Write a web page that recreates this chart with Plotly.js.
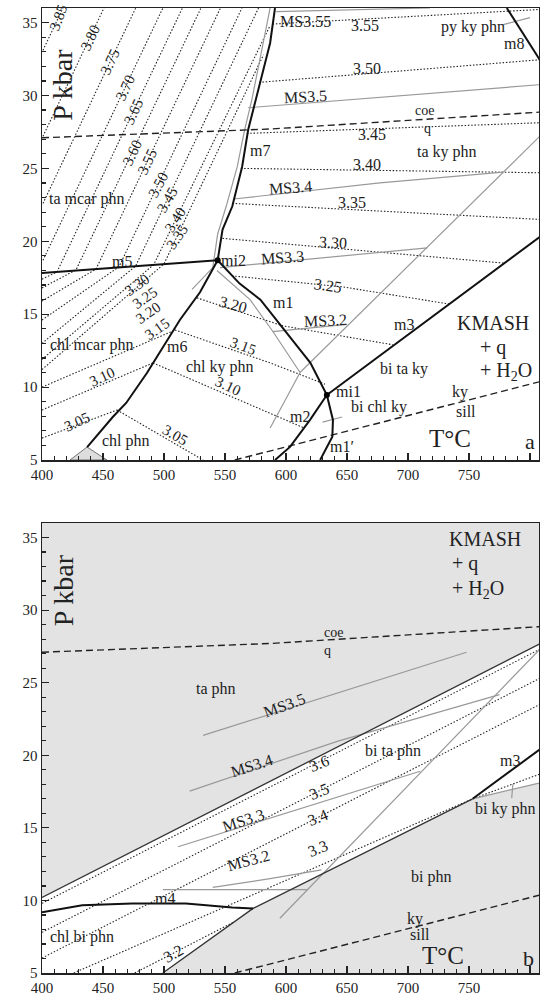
<!DOCTYPE html>
<html><head><meta charset="utf-8">
<script src="https://cdn.plot.ly/plotly-3.0.1.min.js"></script>
<style>html,body{margin:0;padding:0;background:#fff}#chart{width:540px;height:998px}</style>
</head><body><div id="chart"></div>
<script>
const FONT = '"Liberation Serif", "Times New Roman", "DejaVu Serif", serif';
// ================= Panel a (T °C, P kbar) =================
const m7T=[544,548,556,564,569,575,587,591], m7P=[18.7,20.8,22.4,25.1,27.65,29.7,33.6,36];
const m5T=[400,544], m5P=[17.83,18.7];
const m6T=[544,529.5,513,499,486,469,458,437], m6P=[18.7,16.5,14.6,12.76,10.97,8.91,7.95,5.89];
const m1T=[544,562,579,601,620,633.5], m1P=[18.7,17.1,16.0,13.7,11.66,9.46];
const m1pT=[633.5,638.5,638,628], m1pP=[9.46,7.75,6.6,5.0];
const m2T=[633.5,619.7,603.3,591], m2P=[9.46,7.75,5.9,5.0];
const m3T=[633.5,808], m3P=[9.46,20.3];
const m8T=[781,808], m8P=[36,32.45];
const invT=[544,633.5], invP=[18.7,9.46];
const coeT=[400,587,808], coeP=[27.1,27.7,28.86];
const kysT=[558,587,693,808], kysP=[5.0,5.62,7.9,10.37];
const chlphnT=[423,436.9,453.3,423], chlphnP=[5,5.89,5,5];
// gray isopleths (MS)
const g1T=[523,540,544,551,560,566,572,580,587], g1P=[16.7,18.2,20.5,22.4,25.1,27.6,29.7,33,36];
const gcT=[543.4,570.5,589,611.5,600,587], gcP=[18.0,16.0,13.85,11.0,9.2,7.2];
const gdT=[611.5,808], gdP=[11.0,27.2];
const ms32T=[589,650], ms32P=[13.8,14.3];
const ms33T=[546,716], ms33P=[18.2,19.55];
const ms34T=[557,677,778], ms34P=[22.9,24.0,24.75];
const ms35T=[569,808], ms35P=[29.16,30.74];
const ms355T=[592,718], ms355P=[35.75,36.0];
const pytickT=[778,800], pytickP=[34.86,35.34];
const bctickT=[630,646], bctickP=[7.6,7.95];
// dotted Si isopleths, high-T side
const r355T=[589,808], r355P=[34.9,35.9];
const r350T=[578,808], r350P=[30.9,32.45];
const r345T=[568,808], r345P=[27.4,28.13];
const r340T=[563,808], r340P=[25.0,24.7];
const r335T=[556,808], r335P=[22.6,21.5];
const r330T=[548,779], r330P=[20.2,18.5];
const r325T=[555.7,646.7,733.6], r325P=[17.63,16.87,15.7];
const r320T=[527,587,597.5,687.7], r320P=[16.12,14.47,14.2,12.9];
const r315T=[509,587,632], r315P=[13.92,11.66,10.2];
const r310T=[491,529.5,614.8], r310P=[11.66,10.28,7.2];
const r305T=[461.5,532], r305P=[8.43,5.0];
// dotted Si isopleths, low-T side
const l385T=[400.8,417.2], l385P=[33.1,36];
const l380T=[400.8,450.8], l380P=[27.2,36];
const l375T=[400.8,476.8], l375P=[22.6,36];
const l370T=[400.8,499.1], l370P=[18.7,36];
const l365T=[400,412.3,515.1], l365P=[17.4,17.9,36];
const l360T=[400,427.9,530.3], l360P=[16.8,18.04,36];
const l355T=[400,444.3,546.3], l355P=[15.9,18.1,36];
const l350T=[400,463.1,563.9], l350P=[14.6,18.25,36];
const l345T=[400,476.7,577.5], l345P=[13.0,18.3,36];
const l340T=[400,491.6,587], l340P=[11.9,18.4,34.8];
const l335T=[400,500,581.6], l335P=[11.2,18.45,32.8];
const l315T=[400,506], l315P=[10.0,13.8];
const l310T=[400,491], l310P=[8.43,11.66];
const l305T=[400,461.5], l305P=[6.5,8.43];

// ================= Panel b =================
const bgWhiteT=[400,499,573,753,808,808,400], bgWhiteP=[5,5,9.45,17.0,18.1,27.67,10.2];
const upT=[400,808], upP=[10.2,27.67];
const loT=[499,573,753], loP=[5,9.45,17.0];
const m4T=[400,433,474,518,556,573], m4P=[9.18,9.66,9.79,9.79,9.51,9.45];
const m3bT=[753,808], m3bP=[17.0,20.4];
const grbT=[753,808], grbP=[17.0,18.1];
const gdbT=[595,808], gdbP=[8.77,27.3];
const bms35T=[532,748], bms35P=[21.37,27.1];
const bms34T=[521,642,775], bms34P=[17.53,20.96,24.18];
const bms33T=[511.5,710], bms33P=[13.7,18.9];
const bms32T=[540,587,629], bms32P=[10.9,11.5,12.1];
const bhT=[499,618], bhP=[10.75,10.75];
const bkytickT=[786,785], bkytickP=[18.0,17.05];
const b36T=[400,808], b36P=[9.8,27.3];
const b35T=[400,808], b35P=[7.8,25.3];
const b34T=[400,808], b34P=[6.03,23.5];
const b33T=[426,753,808], b33P=[5,17.0,18.7];
const b32T=[476,557], b32P=[5,8.5];

const S = {
  thick:{color:'#111',width:2},
  gray:{color:'#999',width:1.2},
  dark:{color:'#333',width:1.3},
  dot:{color:'#222',width:1.1,dash:'1.5px,1.8px'},
  dash:{color:'#222',width:1.4,dash:'7px,4px'}
};
const traces=[];
function L(T,P,style,p){traces.push({x:T,y:P,mode:'lines',line:S[style],xaxis:p?'x2':'x',yaxis:p?'y2':'y',hoverinfo:'skip',showlegend:false});}
traces.push({x:bgWhiteT,y:bgWhiteP,mode:'lines',fill:'toself',fillcolor:'#fff',line:{width:0},xaxis:'x2',yaxis:'y2',hoverinfo:'skip',showlegend:false});
traces.push({x:chlphnT,y:chlphnP,mode:'lines',fill:'toself',fillcolor:'#ddd',line:{color:'#555',width:0.8},xaxis:'x',yaxis:'y',hoverinfo:'skip',showlegend:false});

[[r355T,r355P],[r350T,r350P],[r345T,r345P],[r340T,r340P],[r335T,r335P],[r330T,r330P],[r325T,r325P],[r320T,r320P],[r315T,r315P],[r310T,r310P],[r305T,r305P],
 [l385T,l385P],[l380T,l380P],[l375T,l375P],[l370T,l370P],[l365T,l365P],[l360T,l360P],[l355T,l355P],[l350T,l350P],[l345T,l345P],[l340T,l340P],[l335T,l335P],[l315T,l315P],[l310T,l310P],[l305T,l305P]]
 .forEach(a=>L(a[0],a[1],'dot',0));
[[g1T,g1P],[gcT,gcP],[gdT,gdP],[ms32T,ms32P],[ms33T,ms33P],[ms34T,ms34P],[ms35T,ms35P],[ms355T,ms355P],[pytickT,pytickP],[bctickT,bctickP]].forEach(a=>L(a[0],a[1],'gray',0));
L(coeT,coeP,'dash',0); L(kysT,kysP,'dash',0);
[[m7T,m7P],[m5T,m5P],[m6T,m6P],[m1T,m1P],[m1pT,m1pP],[m2T,m2P],[m3T,m3P],[m8T,m8P]].forEach(a=>L(a[0],a[1],'thick',0));
traces.push({x:invT,y:invP,mode:'markers',marker:{color:'#000',size:6},xaxis:'x',yaxis:'y',hoverinfo:'skip',showlegend:false});

[[b36T,b36P],[b35T,b35P],[b34T,b34P],[b33T,b33P],[b32T,b32P]].forEach(a=>L(a[0],a[1],'dot',1));
[[gdbT,gdbP],[bms35T,bms35P],[bms34T,bms34P],[bms33T,bms33P],[bms32T,bms32P],[bhT,bhP],[grbT,grbP],[bkytickT,bkytickP]].forEach(a=>L(a[0],a[1],'gray',1));
L(upT,upP,'dark',1); L(loT,loP,'dark',1);
L(coeT,coeP,'dash',1); L(kysT,kysP,'dash',1);
L(m4T,m4P,'thick',1); L(m3bT,m3bP,'thick',1);

const ann=[];
function A(text,x,y,p,size,angle,anchor){ann.push({text:text,x:x,y:y,xref:p?'x2':'x',yref:p?'y2':'y',showarrow:false,xanchor:anchor||'center',textangle:angle||0,font:{family:FONT,size:size||16,color:'#222'}});}
// panel a labels
A('P kbar',417.2,30.74,0,28,-90);
A('ta mcar phn',436.9,22.9,0,16);
A('m7',578.7,26.2,0,16); A('m5',465.6,18.6,0,16); A('mi2',556.6,18.66,0,16);
A('MS3.3',597.5,18.86,0,16,-4); A('MS3.4',604.1,23.67,0,16,-4); A('MS3.5',616.4,29.9,0,16,-3); A('MS3.55',615.6,35.1,0,16);
A('3.55',664.8,34.8,0,16); A('py ky phn',753.3,34.7,0,16); A('m8',786.9,33.55,0,16);
A('3.50',666.4,31.84,0,16); A('coe',713.9,29.0,0,14); A('q',715.6,27.75,0,14);
A('3.45',670.5,27.3,0,16); A('ta ky phn',732,26.14,0,16); A('3.40',666.4,25.3,0,16);
A('3.35',654.1,22.64,0,16); A('3.30',638.5,19.9,0,16,3); A('3.25',634.4,17.0,0,16,8);
A('3.20',556.6,15.64,0,16,15); A('m1',597.5,15.78,0,16); A('MS3.2',632,14.54,0,16,-3); A('m3',696.7,14.27,0,16);
A('KMASH',738.5,14.4,0,20,0,'left'); A('+ q',757.4,12.75,0,20,0,'left'); A('+ H<sub>2</sub>O',757.4,11.05,0,20,0,'left');
A('chl mcar phn',441,12.9,0,16); A('m6',510.7,12.76,0,16);
A('3.30',477.9,17.0,0,15,-35); A('3.25',484.4,16.1,0,15,-35); A('3.20',486.9,15.1,0,15,-35); A('3.15',494.3,14.0,0,15,-35);
A('3.15',564.8,12.82,0,15,20); A('chl ky phn',545.9,11.38,0,16); A('3.10',552.5,10.08,0,15,25);
A('3.10',449.2,10.7,0,15,-25); A('3.05',428.7,7.6,0,15,-25); A('3.05',509,6.72,0,15,30); A('chl phn',468.9,6.3,0,16);
A('bi ta ky',696.7,11.25,0,16); A('mi1',651.6,9.67,0,16); A('bi chl ky',676.2,8.64,0,16); A('m2',611.5,8.0,0,16);
A('ky',742.6,9.67,0,16); A('sill',747.5,8.36,0,16); A('m1′',645.9,5.96,0,16);
A('T°C',734.4,6.5,0,25); A('a',800,6.3,0,22);
A('3.85',413.1,35.34,0,15,-70); A('3.80',439.3,33.96,0,15,-65); A('3.75',455.7,32.3,0,15,-65); A('3.70',468,30.53,0,15,-65);
A('3.65',474.6,28.9,0,15,-65); A('3.60',473.8,26.07,0,15,-65); A('3.55',486.1,25.45,0,15,-65); A('3.50',495.1,23.87,0,15,-62);
A('3.45',502.5,22.85,0,15,-60); A('3.40',509,21.47,0,15,-58); A('3.35',510.7,20.3,0,15,-55);
// panel b labels
A('P kbar',417.2,31.37,1,28,-90);
A('KMASH',732,34.9,1,20,0,'left'); A('+ q',734.4,33.2,1,20,0,'left'); A('+ H<sub>2</sub>O',734.4,31.45,1,20,0,'left');
A('coe',639.3,28.45,1,14); A('q',634.4,27.2,1,14); A('ta phn',542.6,24.59,1,16);
A('MS3.5',598.4,23.42,1,16,-20); A('MS3.4',572.1,19.32,1,16,-18); A('3.6',627,19.45,1,16,-22); A('bi ta phn',687.7,20.27,1,16);
A('3.5',627,17.53,1,16,-22); A('3.4',626.2,15.68,1,16,-22); A('3.3',626.2,13.56,1,16,-22);
A('MS3.3',564.8,15.48,1,16,-18); A('MS3.2',568.9,12.74,1,16,-15); A('m4',500.8,10.14,1,16);
A('chl bi phn',432.8,7.47,1,16); A('3.2',507.4,6.37,1,16,-30); A('m3',783.6,19.66,1,16); A('bi ky phn',779.5,16.3,1,16);
A('bi phn',718.9,11.58,1,16); A('ky',705.7,8.7,1,16); A('sill',709.8,7.67,1,16); A('T°C',728.7,6.23,1,25); A('b',798.4,6.03,1,22);

const ax = {range:[400,807.4],dtick:50,tick0:400,ticks:'inside',ticklen:7,tickwidth:1.2,tickcolor:'#222',showline:true,mirror:true,linecolor:'#222',linewidth:1.5,showgrid:false,zeroline:false,tickfont:{family:FONT,size:15,color:'#222'},minor:{dtick:10,ticks:'inside',ticklen:4,tickcolor:'#222',showgrid:false}};
const ay = {range:[5,36],dtick:5,tick0:0,ticks:'inside',ticklen:7,tickwidth:1.2,tickcolor:'#222',showline:true,mirror:true,linecolor:'#222',linewidth:1.5,showgrid:false,zeroline:false,tickfont:{family:FONT,size:15,color:'#222'},minor:{dtick:1,ticks:'inside',ticklen:4,tickcolor:'#222',showgrid:false}};
const layout = {
  width:540,height:998,margin:{l:42,r:1,t:8,b:25},paper_bgcolor:'#fff',plot_bgcolor:'rgba(0,0,0,0)',showlegend:false,
  font:{family:FONT},
  xaxis:Object.assign({},ax,{anchor:'y',domain:[0,1]}),
  yaxis:Object.assign({},ay,{anchor:'x',domain:[0.5316,1]}),
  xaxis2:Object.assign({},ax,{anchor:'y2',domain:[0,1]}),
  yaxis2:Object.assign({},ay,{anchor:'x2',domain:[0,0.4663]}),
  shapes:[{type:'rect',xref:'x2 domain',yref:'y2 domain',x0:0,x1:1,y0:0,y1:1,fillcolor:'#e3e3e3',line:{width:0},layer:'below'}],
  annotations:ann
};
Plotly.newPlot('chart',traces,layout,{staticPlot:true});
</script></body></html>
